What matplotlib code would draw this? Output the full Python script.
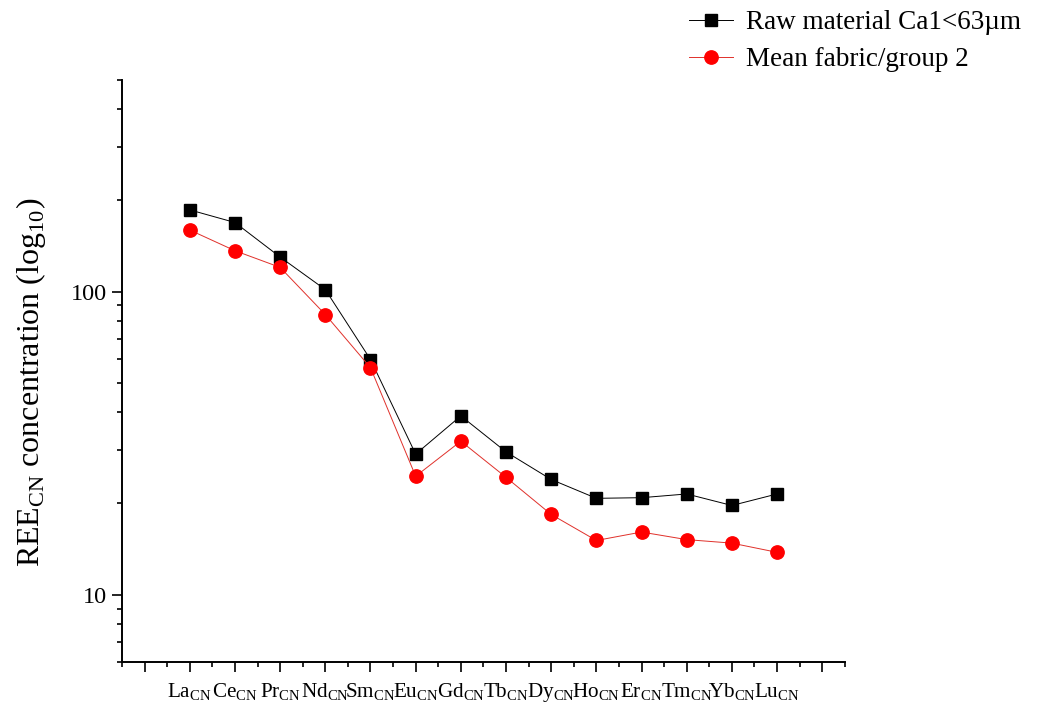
import numpy as np
import matplotlib
matplotlib.use("Agg")
import matplotlib.pyplot as plt
from matplotlib.ticker import FixedLocator, LogLocator, FuncFormatter, NullFormatter

plt.rcParams['font.family'] = ['Liberation Serif', 'DejaVu Serif']
plt.rcParams['mathtext.fontset'] = 'custom'
plt.rcParams['mathtext.rm'] = 'Liberation Serif'

# chondrite-normalised REE values
elements = ["La", "Ce", "Pr", "Nd", "Sm", "Eu", "Gd", "Tb", "Dy", "Ho", "Er", "Tm", "Yb", "Lu"]
raw_ca1 = [186, 169, 130, 101.5, 59.7, 29.1, 38.9, 29.6, 24.0, 20.8, 20.9, 21.5, 19.7, 21.5]
mean_group2 = [159.6, 136.4, 120.2, 84.0, 56.1, 24.6, 32.1, 24.4, 18.4, 15.1, 16.1, 15.2, 14.8, 13.8]
labels = ["Raw material Ca1<63\u00b5m", "Mean fabric/group 2"]

x = np.arange(1, len(elements) + 1)

fig = plt.figure(figsize=(10.43, 7.18), dpi=100)
ax = fig.add_axes([0.117, 0.078, 0.693, 0.811])

l1, = ax.plot(x, raw_ca1, color="black", lw=0.7, marker="s", ms=8.6, mec="black", mfc="black")
l2, = ax.plot(x, mean_group2, color="#e0302a", lw=0.7, marker="o", ms=9.6, mec="red", mfc="red")

ax.set_yscale("log")
ax.set_ylim(6, 500)
ax.set_xlim(-0.5, 15.5)

# x ticks: major on whole positions, minor half way
ax.xaxis.set_major_locator(FixedLocator(np.arange(0, 16)))
ax.xaxis.set_minor_locator(FixedLocator(np.arange(-0.5, 16, 1.0)))
xt = [""] + [r"$\mathrm{%s}_{\mathrm{CN}}$" % e for e in elements] + [""]
ax.set_xticklabels(xt, fontsize=15.2)

ax.yaxis.set_major_locator(LogLocator(base=10, numticks=10))
ax.yaxis.set_minor_locator(LogLocator(base=10, subs=np.arange(2, 10), numticks=20))
ax.yaxis.set_major_formatter(FuncFormatter(lambda v, p: "%d" % v))
ax.yaxis.set_minor_formatter(NullFormatter())
ax.tick_params(axis="y", labelsize=17.5)

for s in ["top", "right"]:
    ax.spines[s].set_visible(False)
for s in ["left", "bottom"]:
    ax.spines[s].set_linewidth(1.4)
ax.tick_params(which="major", direction="out", length=7, width=1.2)
ax.tick_params(which="minor", direction="out", length=3.8, width=1.2)
ax.tick_params(axis="x", pad=7)
ax.tick_params(axis="y", pad=4)

ax.set_ylabel(r"REE$_{\mathrm{CN}}$ concentration (log$_{10}$)", fontsize=23)
ax.yaxis.set_label_coords(-0.103, 0.481)

fig.legend([l1, l2], labels, loc="upper left", bbox_to_anchor=(0.637, 1.02),
           frameon=False, fontsize=19.5, handlelength=1.65, handletextpad=0.45,
           labelspacing=0.45)

fig.savefig("out.png", dpi=100)
